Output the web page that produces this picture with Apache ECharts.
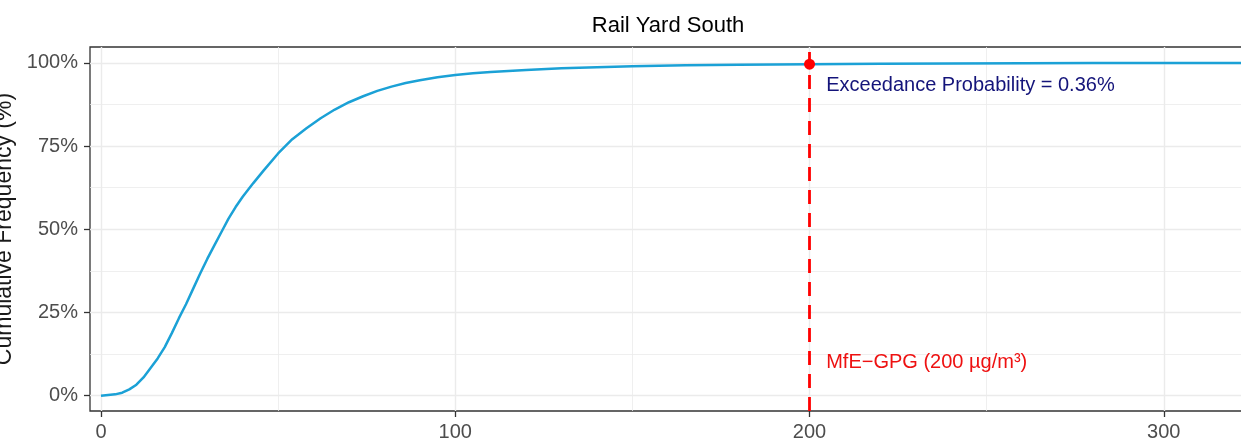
<!DOCTYPE html>
<html>
<head>
<meta charset="utf-8">
<script src="https://cdn.jsdelivr.net/npm/echarts@6/dist/echarts.min.js"></script>
<style>html,body{margin:0;padding:0;background:#fff}#c{width:1241px;height:447px}</style>
</head>
<body>
<div id="c"></div>
<script>
// ---- data ----
const concentration = [0, 2, 4, 6, 8, 10, 12, 14, 16, 18, 20, 22, 24, 26, 28, 30, 32, 34, 36, 38, 40, 43, 46, 50, 54, 58, 62, 66, 70, 74, 78, 82, 86, 90, 95, 100, 105, 110, 120, 130, 140, 150, 165, 180, 200, 220, 240, 260, 280, 300, 323];
const cumulativePct = [0, 0.2, 0.4, 0.9, 1.9, 3.3, 5.5, 8.3, 11.2, 14.6, 18.8, 23.3, 27.5, 32.1, 36.7, 41.1, 45.2, 49.2, 53.2, 56.7, 59.8, 63.9, 67.8, 72.8, 77.1, 80.4, 83.4, 86.0, 88.2, 90.0, 91.6, 92.9, 94.0, 94.8, 95.7, 96.4, 96.9, 97.3, 97.9, 98.4, 98.7, 99.0, 99.3, 99.5, 99.64, 99.78, 99.87, 99.92, 99.96, 99.98, 100];
const majorXTicks = [0, 100, 200, 300];
const minorXTicks = [50, 150, 250];
const majorYTicks = [0, 25, 50, 75, 100];
const minorYTicks = [12.5, 37.5, 62.5, 87.5];
const guidelineValue = 200;
const exceedancePct = 0.36;
const exceedanceLabelPos = [204.7, 93.1];
const guidelineLabelPos = [204.7, 10];
const titleText = 'Rail Yard South';
const yTitle = 'Cumulative Frequency (%)';

// ---- chart ----
const FONT = 'Liberation Sans, Arial, sans-serif';
const xRange = [-3.1, 323.2];
const yRange = [-4.6, 104.8];
const curve = concentration.map((x, i) => [x, cumulativePct[i]]);

const chart = echarts.init(document.getElementById('c'), null, {renderer: 'canvas'});

function minorAxis(range, ticks) {
  return {
    type: 'value', min: range[0], max: range[1],
    axisLine: {show: false, onZero: false},
    axisTick: {show: false, customValues: ticks},
    axisLabel: {show: false, customValues: ticks},
    splitLine: {show: true, lineStyle: {color: '#EBEBEB', width: 0.8}}
  };
}
function majorAxis(range, ticks, fmt, margin, pad) {
  return {
    type: 'value', min: range[0], max: range[1],
    axisLine: {show: false, onZero: false},
    axisTick: {show: true, length: 6, customValues: ticks, lineStyle: {color: '#333333', width: 1.3}},
    axisLabel: {customValues: ticks, formatter: fmt, margin: margin, padding: pad, color: '#4D4D4D', fontSize: 20, fontFamily: FONT},
    splitLine: {show: true, lineStyle: {color: '#EBEBEB', width: 1.4}}
  };
}

const xMinor = Object.assign(minorAxis(xRange, minorXTicks), {position: 'bottom'});
const xMajor = Object.assign(majorAxis(xRange, majorXTicks, v => String(v), 11, 0), {position: 'bottom'});
const yMinor = Object.assign(minorAxis(yRange, minorYTicks), {position: 'left'});
const yMajor = Object.assign(majorAxis(yRange, majorYTicks, v => v + '%', 12, [3, 0, 0, 0]), {
  position: 'left',
  name: yTitle, nameLocation: 'middle', nameGap: 72, nameRotate: 90,
  nameTextStyle: {fontSize: 23, color: '#1A1A1A', fontFamily: FONT}
});

const labelStyle = {fontSize: 20, fontFamily: FONT, opacity: 1};

chart.setOption({
  animation: false,
  backgroundColor: '#ffffff',
  title: {
    text: titleText, left: 663, textAlign: 'center', top: 10,
    textStyle: {fontSize: 22, fontWeight: 'normal', color: '#000000', fontFamily: FONT}
  },
  grid: {
    left: 90, top: 47, right: -5, bottom: 36,
    show: true, borderColor: '#333333', borderWidth: 1.3, backgroundColor: 'transparent',
    containLabel: false, outerBoundsMode: 'none'
  },
  xAxis: [xMinor, xMajor],
  yAxis: [yMinor, yMajor],
  series: [
    {
      type: 'line', xAxisIndex: 1, yAxisIndex: 1,
      data: curve, showSymbol: false, symbol: 'none',
      lineStyle: {color: '#1BA1D6', width: 2.5, join: 'round'}, z: 3,
      markLine: {
        silent: true, symbol: 'none', label: {show: false},
        lineStyle: {color: '#FF0000', type: [14, 9], width: 2.8, opacity: 1},
        data: [{xAxis: guidelineValue}]
      }
    },
    {
      type: 'scatter', xAxisIndex: 1, yAxisIndex: 1,
      data: [[guidelineValue, 100 - exceedancePct]],
      symbolSize: 11, itemStyle: {color: '#FF0000', opacity: 1}, z: 6
    },
    {
      type: 'scatter', xAxisIndex: 1, yAxisIndex: 1, symbolSize: 0, z: 7, silent: true,
      itemStyle: {opacity: 1},
      label: {show: true, position: 'right', distance: 0},
      data: [
        {value: exceedanceLabelPos, label: Object.assign({formatter: 'Exceedance Probability = ' + exceedancePct.toFixed(2) + '%', color: '#14147A'}, labelStyle)},
        {value: guidelineLabelPos, label: Object.assign({formatter: 'MfE\u2212GPG (' + guidelineValue + ' \u00b5g/m\u00b3)', color: '#EE1111'}, labelStyle)}
      ]
    }
  ]
});
</script>
</body>
</html>
